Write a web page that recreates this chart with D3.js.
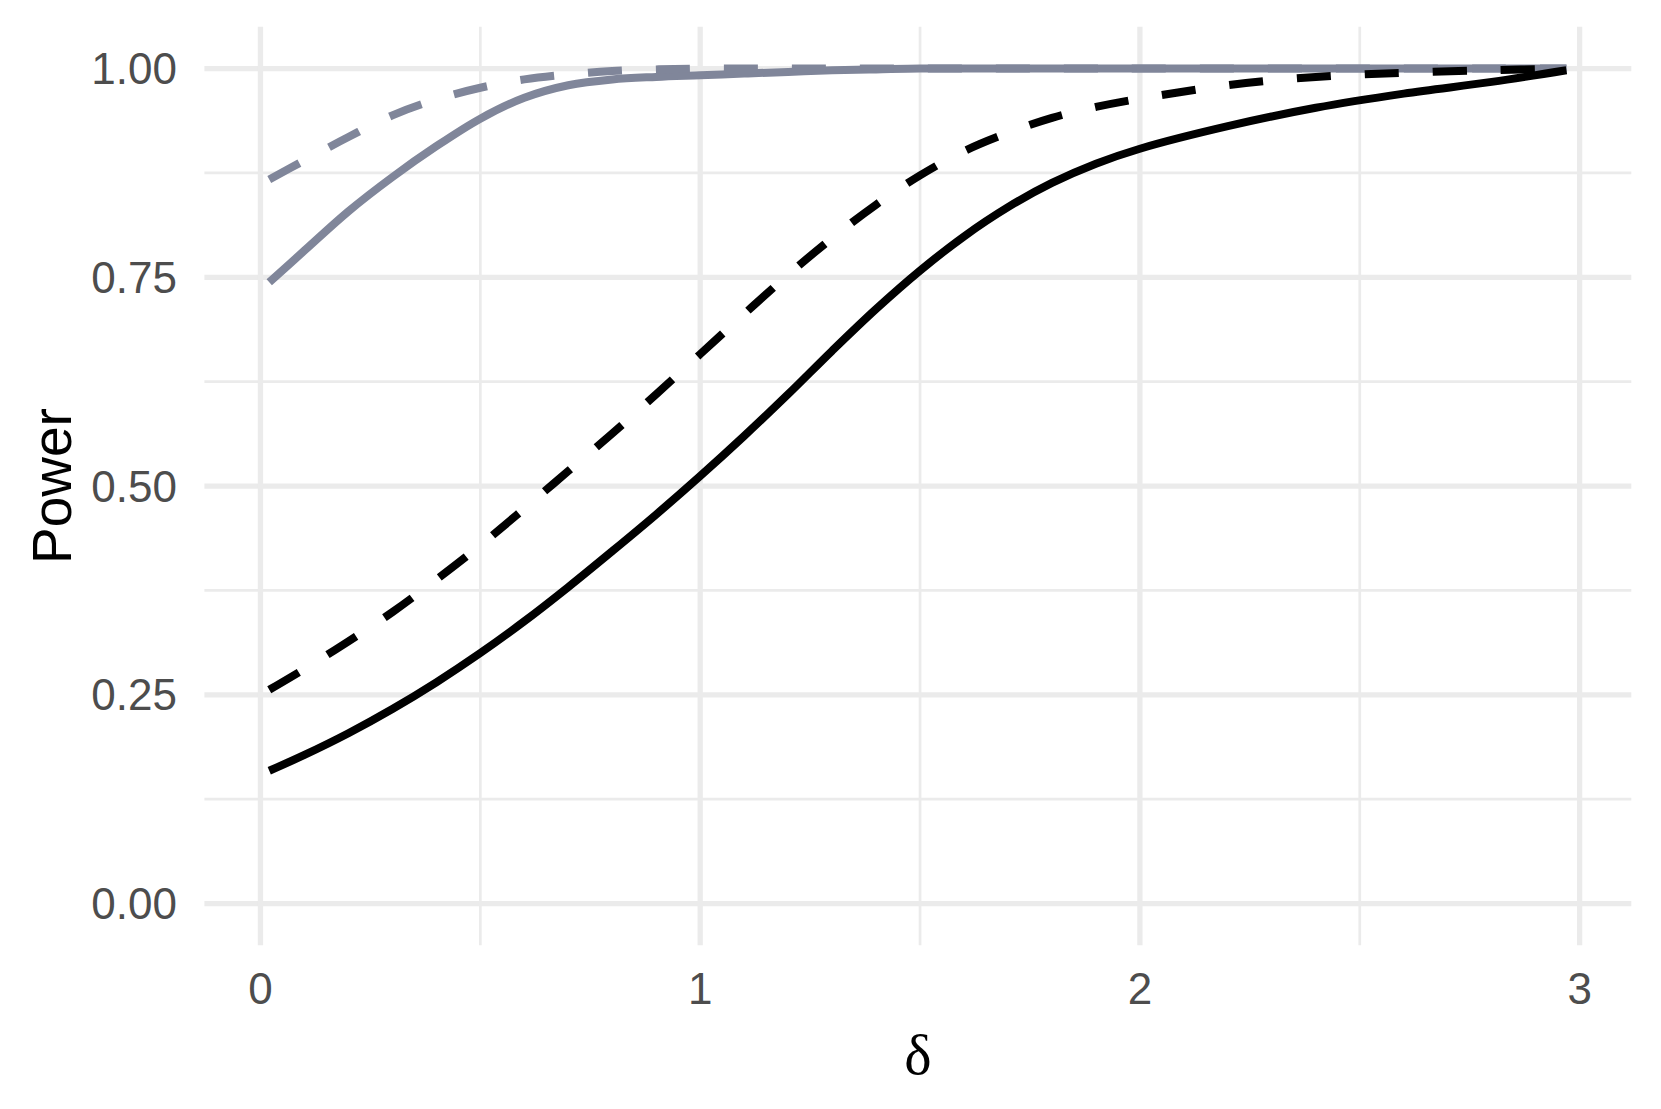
<!DOCTYPE html>
<html>
<head>
<meta charset="utf-8">
<script src="https://cdn.jsdelivr.net/npm/d3@7"></script>
<style>
  html, body { margin: 0; padding: 0; background: #ffffff; }
  svg { display: block; }
</style>
</head>
<body>
<svg id="chart" width="1661" height="1109"></svg>
<script>
// ---- data ----
const delta = [0.02, 0.1, 0.2, 0.3, 0.4, 0.5, 0.6, 0.7, 0.8, 0.9, 1.0, 1.1, 1.2, 1.3, 1.4, 1.5, 1.6, 1.7, 1.8, 1.9, 2.0, 2.2, 2.4, 2.6, 2.8, 2.97];
const blackSolid  = [0.159, 0.178, 0.204, 0.233, 0.265, 0.300, 0.338, 0.379, 0.422, 0.466, 0.512, 0.560, 0.610, 0.662, 0.712, 0.758, 0.799, 0.834, 0.863, 0.886, 0.904, 0.931, 0.953, 0.970, 0.984, 0.998];
const blackDashed = [0.256, 0.281, 0.314, 0.349, 0.388, 0.429, 0.473, 0.518, 0.563, 0.610, 0.658, 0.706, 0.753, 0.797, 0.837, 0.872, 0.901, 0.923, 0.941, 0.954, 0.964, 0.980, 0.990, 0.995, 0.998, 1.000];
const greySolid   = [0.744, 0.782, 0.829, 0.870, 0.907, 0.940, 0.965, 0.980, 0.987, 0.990, 0.992, 0.994, 0.996, 0.998, 0.999, 1.000, 1.000, 1.000, 1.000, 1.000, 1.000, 1.000, 1.000, 1.000, 1.000, 1.000];
const greyDashed  = [0.867, 0.890, 0.918, 0.944, 0.963, 0.977, 0.987, 0.993, 0.997, 0.999, 1.000, 1.000, 1.000, 1.000, 1.000, 1.000, 1.000, 1.000, 1.000, 1.000, 1.000, 1.000, 1.000, 1.000, 1.000, 1.000];
const seriesNames  = ["greySolid", "greyDashed", "blackSolid", "blackDashed"];
const xTicks = [0, 1, 2, 3];
const xMinorTicks = [0.5, 1.5, 2.5];
const yTicks = [0, 0.25, 0.5, 0.75, 1];
const yMinorTicks = [0.125, 0.375, 0.625, 0.875];
const xTitle = "δ";
const yTitle = "Power";

// ---- layout ----
const svg = d3.select("#chart");
const panel = { left: 204.4, right: 1631.3, top: 26.8, bottom: 945.3 };
const xr = d3.extent(delta), xpad = (xr[1] - xr[0]) * 0.05;
const x = d3.scaleLinear().domain([xr[0] - xpad, xr[1] + xpad]).range([panel.left, panel.right]);
const y = d3.scaleLinear().domain([-0.05, 1.05]).range([panel.bottom, panel.top]);

const gridCol = "#EBEBEB";
const g = svg.append("g");

// minor grid
g.selectAll(".ymin").data(yMinorTicks).join("line")
  .attr("x1", panel.left).attr("x2", panel.right)
  .attr("y1", d => y(d)).attr("y2", d => y(d))
  .attr("stroke", gridCol).attr("stroke-width", 2.7);
g.selectAll(".xmin").data(xMinorTicks).join("line")
  .attr("y1", panel.top).attr("y2", panel.bottom)
  .attr("x1", d => x(d)).attr("x2", d => x(d))
  .attr("stroke", gridCol).attr("stroke-width", 2.7);
// major grid
g.selectAll(".ymaj").data(yTicks).join("line")
  .attr("x1", panel.left).attr("x2", panel.right)
  .attr("y1", d => y(d)).attr("y2", d => y(d))
  .attr("stroke", gridCol).attr("stroke-width", 5.3);
g.selectAll(".xmaj").data(xTicks).join("line")
  .attr("y1", panel.top).attr("y2", panel.bottom)
  .attr("x1", d => x(d)).attr("x2", d => x(d))
  .attr("stroke", gridCol).attr("stroke-width", 5.3);

// ---- lines ----
const seriesData = { greySolid, greyDashed, blackSolid, blackDashed };
const styles = {
  greySolid:   { color: "#80869A", dash: null },
  greyDashed:  { color: "#80869A", dash: "34,34" },
  blackSolid:  { color: "#000000", dash: null },
  blackDashed: { color: "#000000", dash: "34,34" }
};
const line = d3.line().x(d => x(d[0])).y(d => y(d[1])).curve(d3.curveCatmullRom.alpha(0.5));
seriesNames.forEach(name => {
  const pts = delta.map((d, i) => [d, seriesData[name][i]]);
  g.append("path")
    .attr("d", line(pts))
    .attr("fill", "none")
    .attr("stroke", styles[name].color)
    .attr("stroke-width", 8)
    .attr("stroke-linecap", "butt")
    .attr("stroke-linejoin", "round")
    .attr("stroke-dasharray", styles[name].dash);
});

// ---- axes text ----
const font = "'Liberation Sans', Arial, Helvetica, sans-serif";
const gx = svg.append("g");
xTicks.forEach(t => {
  gx.append("text").attr("x", x(t)).attr("y", 1004)
    .attr("text-anchor", "middle")
    .attr("font-family", font).attr("font-size", 44).attr("fill", "#4D4D4D")
    .text(d3.format("d")(t));
});
const gy = svg.append("g");
yTicks.forEach(t => {
  gy.append("text").attr("x", 177).attr("y", y(t))
    .attr("text-anchor", "end").attr("dominant-baseline", "central")
    .attr("font-family", font).attr("font-size", 44).attr("fill", "#4D4D4D")
    .text(d3.format(".2f")(t));
});

// titles
svg.append("text")
  .attr("transform", `translate(71, ${(panel.top + panel.bottom) / 2}) rotate(-90)`)
  .attr("text-anchor", "middle")
  .attr("font-family", font).attr("font-size", 55).attr("fill", "#000")
  .text(yTitle);
svg.append("text")
  .attr("x", (panel.left + panel.right) / 2).attr("y", 1074)
  .attr("text-anchor", "middle")
  .attr("font-family", "'Liberation Serif', 'Times New Roman', serif").attr("font-size", 58).attr("fill", "#000")
  .text(xTitle);
</script>
</body>
</html>
